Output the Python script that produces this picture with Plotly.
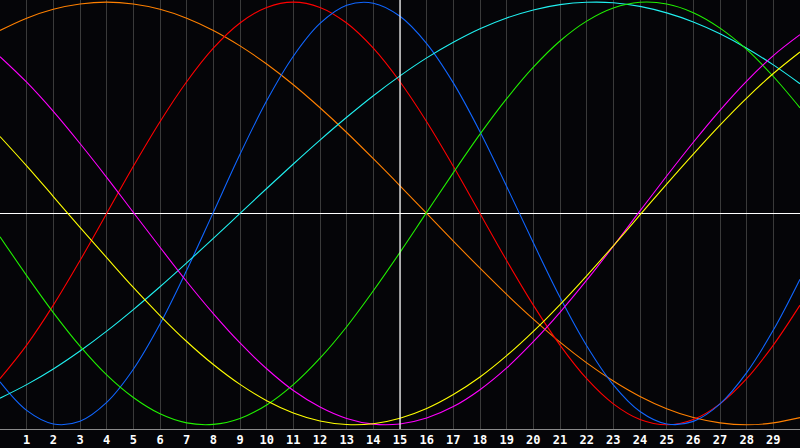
import plotly.graph_objects as go

x_vals = list(range(0, 31))
tick_vals = list(range(1, 30))
tick_text = [str(v) for v in tick_vals]

orange = [0.866, 0.924, 0.966, 0.991, 1.000, 0.991, 0.966, 0.924, 0.866, 0.793, 0.707,
          0.609, 0.500, 0.383, 0.259, 0.131, 0.000, -0.131, -0.259, -0.383, -0.500,
          -0.609, -0.707, -0.793, -0.866, -0.924, -0.966, -0.991, -1.000, -0.991, -0.966]
red = [-0.782, -0.623, -0.434, -0.223, 0.000, 0.223, 0.434, 0.623, 0.782, 0.901, 0.975,
       1.000, 0.975, 0.901, 0.782, 0.623, 0.434, 0.223, 0.000, -0.223, -0.434,
       -0.623, -0.782, -0.901, -0.975, -1.000, -0.975, -0.901, -0.782, -0.623, -0.434]
blue = [-0.797, -0.932, -0.996, -0.983, -0.894, -0.737, -0.523, -0.269, 0.005, 0.280, 0.533,
        0.744, 0.899, 0.985, 0.995, 0.933, 0.804, 0.618, 0.387, 0.128, -0.139,
        -0.397, -0.626, -0.811, -0.937, -0.996, -0.984, -0.901, -0.753, -0.552, -0.311]
cyan = [-0.874, -0.810, -0.736, -0.651, -0.557, -0.455, -0.347, -0.234, -0.118, 0.000, 0.118,
        0.234, 0.347, 0.455, 0.557, 0.651, 0.736, 0.810, 0.874, 0.925, 0.963,
        0.988, 0.999, 0.997, 0.980, 0.949, 0.906, 0.850, 0.782, 0.703, 0.614]
green = [-0.110, -0.294, -0.469, -0.628, -0.764, -0.871, -0.948, -0.991, -0.998, -0.970, -0.906,
         -0.810, -0.685, -0.536, -0.366, -0.184, 0.005, 0.193, 0.375, 0.543, 0.692,
         0.816, 0.910, 0.972, 0.999, 0.991, 0.950, 0.877, 0.776, 0.648, 0.500]
magenta = [0.742, 0.621, 0.483, 0.331, 0.171, 0.005, -0.160, -0.322, -0.474, -0.613, -0.735,
           -0.838, -0.916, -0.970, -0.997, -0.996, -0.968, -0.914, -0.834, -0.731, -0.607,
           -0.468, -0.316, -0.155, 0.012, 0.177, 0.337, 0.488, 0.626, 0.747, 0.846]
yellow = [0.364, 0.225, 0.080, -0.066, -0.209, -0.350, -0.483, -0.606, -0.715, -0.809, -0.886,
          -0.944, -0.982, -0.999, -0.995, -0.969, -0.923, -0.857, -0.774, -0.673, -0.558,
          -0.431, -0.295, -0.153, -0.007, 0.139, 0.281, 0.418, 0.546, 0.662, 0.764]

series = [
    ("orange", orange, "#ff8000"),
    ("red", red, "#ff0000"),
    ("blue", blue, "#1066ff"),
    ("cyan", cyan, "#20f0f0"),
    ("green", green, "#20f000"),
    ("magenta", magenta, "#ff00ff"),
    ("yellow", yellow, "#ffff00"),
]

cursor_x = 15

fig = go.Figure()
for name, vals, col in series:
    fig.add_trace(go.Scatter(x=x_vals, y=vals, mode="lines", name=name,
                             line=dict(color=col, width=1.1, shape="spline", smoothing=1.0),
                             hoverinfo="skip"))

fig.add_vline(x=cursor_x, line=dict(color="#ffffff", width=1.2), layer="above")

fig.update_layout(
    width=800, height=448,
    margin=dict(l=0, r=0, t=0, b=19),
    paper_bgcolor="#050508",
    plot_bgcolor="#050508",
    showlegend=False,
    xaxis=dict(range=[0, 30], tickvals=tick_vals, ticktext=tick_text,
               showgrid=True, gridcolor="#3a3a3a", gridwidth=1,
               zeroline=False, showline=True, linecolor="#8a8a8a", linewidth=1, mirror=True,
               ticks="", ticklabelstandoff=0,
               tickfont=dict(family="DejaVu Sans Mono", size=12, color="#ffffff", weight="bold")),
    yaxis=dict(range=[-1.02, 1.01], showgrid=False, showticklabels=False, ticks="",
               zeroline=True, zerolinecolor="#ffffff", zerolinewidth=1.2,
               showline=True, linecolor="#8a8a8a", linewidth=1, mirror=True),
)

fig.write_html("out.html",
               config={"displayModeBar": False},
               post_script="document.body.style.margin='0';document.body.style.padding='0';"
                           "document.body.style.background='#050508';"
                           "document.documentElement.style.overflow='hidden';")
